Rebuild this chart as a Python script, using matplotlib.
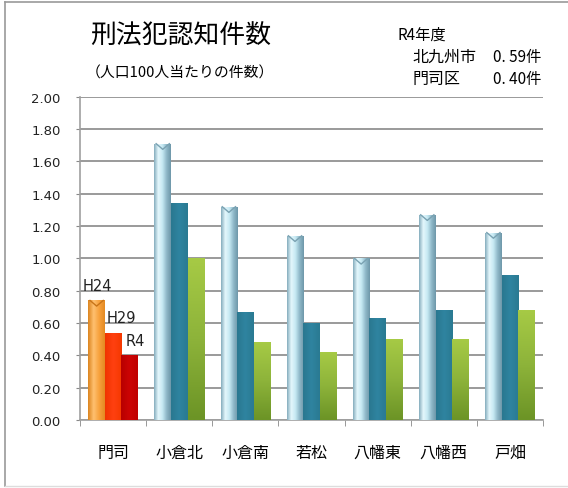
import numpy as np
import matplotlib.pyplot as plt
from matplotlib.colors import LinearSegmentedColormap

plt.rcParams['font.family'] = ['Noto Sans CJK JP', 'DejaVu Sans']

wards = ['門司', '小倉北', '小倉南', '若松', '八幡東', '八幡西', '戸畑']
h24 = [0.74, 1.71, 1.32, 1.14, 1.00, 1.27, 1.16]
h29 = [0.54, 1.34, 0.67, 0.60, 0.63, 0.68, 0.90]
r4 = [0.40, 1.00, 0.48, 0.42, 0.50, 0.50, 0.68]
years = ['H24', 'H29', 'R4']

fig = plt.figure(figsize=(5.68, 4.89), dpi=100)
ax = fig.add_axes([0.141, 0.139, 0.815, 0.661])

x = np.arange(len(wards))
w = 0.25


def shade(bar, colors, horizontal=True):
    # gradient fill clipped to the bar
    bx, by = bar.get_x(), bar.get_y()
    bw, bh = bar.get_width(), bar.get_height()
    cmap = LinearSegmentedColormap.from_list('g', colors)
    if horizontal:
        grad = np.linspace(0, 1, 64).reshape(1, -1)
    else:
        grad = np.linspace(0, 1, 64).reshape(-1, 1)
    im = ax.imshow(grad, cmap=cmap, extent=[bx, bx + bw, by, by + bh],
                   aspect='auto', zorder=3, origin='upper')
    im.set_clip_path(bar)
    bar.set_facecolor('none')


def cap(bar, color):
    # little V notch on top of the cylinder-like bars
    bx, bw, top = bar.get_x(), bar.get_width(), bar.get_height()
    ax.plot([bx + bw * 0.1, bx + bw / 2, bx + bw * 0.9],
            [top, top - 0.035, top], color=color, lw=1.0, zorder=4)


# 門司 in warm colours, the rest in blue/teal/green
warm = [['#dc8520', '#ffc070', '#f7a13c', '#e48a22'],
        ['#f03400', '#ff4010', '#f53800'],
        ['#b80000', '#cc0404', '#c00000']]
cool = [['#86aebe', '#e4f7fc', '#c6e9f3', '#8fb8c8', '#6e98aa'],
        ['#2a7890', '#2f84a0', '#2a7a92'],
        ['#a6ca45', '#8db33a', '#6c9426']]

for j, vals in enumerate([h24, h29, r4]):
    bars = ax.bar(x + (j - 1) * w, vals, w, zorder=3, edgecolor='none')
    for i, b in enumerate(bars):
        if i == 0:
            shade(b, warm[j])
            if j == 0:
                cap(b, '#c87418')
        elif j == 2:
            shade(b, cool[j], horizontal=False)
        else:
            shade(b, cool[j])
            if j == 0:
                cap(b, '#7aa2b2')

label_dx = [-0.08, 0.03, 0.07]
for j, lab in enumerate(years):
    ax.text(x[0] + (j - 1.5) * w + label_dx[j], [h24, h29, r4][j][0] + 0.065,
            lab, fontsize=10.5, family='DejaVu Sans', color='#222222',
            va='baseline', ha='left', zorder=5)

ax.set_xlim(-0.5, len(wards) - 0.5)
ax.set_ylim(0, 2.0)
yt = np.arange(0, 2.01, 0.2)
ax.set_yticks(yt)
ax.set_yticklabels([f'{v:.2f}' for v in yt], family='DejaVu Sans',
                   fontsize=9.5, color='#222222')
ax.set_xticks(x)
ax.set_xticklabels(wards, fontsize=11.5)
ax.tick_params(axis='x', length=0, pad=17)
ax.tick_params(axis='y', length=3, color='#888888', pad=11)
ax.set_xticks(np.arange(-0.5, len(wards)), minor=True)
ax.tick_params(axis='x', which='minor', length=4, color='#888888')

ax.grid(axis='y', color='#9a9a9a', linewidth=1.4, zorder=0)
for s in ['top', 'right']:
    ax.spines[s].set_visible(False)
for s in ['left', 'bottom']:
    ax.spines[s].set_color('#a0a0a0')
    ax.spines[s].set_linewidth(1.2)

fig.text(0.158, 0.926, '刑法犯認知件数', fontsize=18.6, va='center')
fig.text(0.151, 0.850, '（人口100人当たりの件数）', fontsize=10.7, va='center')
fig.text(0.699, 0.928, 'R4年度', fontsize=11, va='center')
fig.text(0.727, 0.883, '北九州市', fontsize=11.5, va='center')
fig.text(0.727, 0.838, '門司区', fontsize=11.5, va='center')
fig.text(0.868, 0.883, '0. 59件', fontsize=11, va='center')
fig.text(0.868, 0.838, '0. 40件', fontsize=11, va='center')

# outer frame
fig.add_artist(plt.Line2D([0.009, 0.009], [0.004, 0.994], color='#999999',
                          lw=1.2, transform=fig.transFigure))
fig.add_artist(plt.Line2D([0.009, 1.0], [0.994, 0.994], color='#999999',
                          lw=1.2, transform=fig.transFigure))
fig.add_artist(plt.Line2D([0.009, 1.0], [0.004, 0.004], color='#dddddd',
                          lw=1.0, transform=fig.transFigure))

fig.savefig('out.png', dpi=100)
